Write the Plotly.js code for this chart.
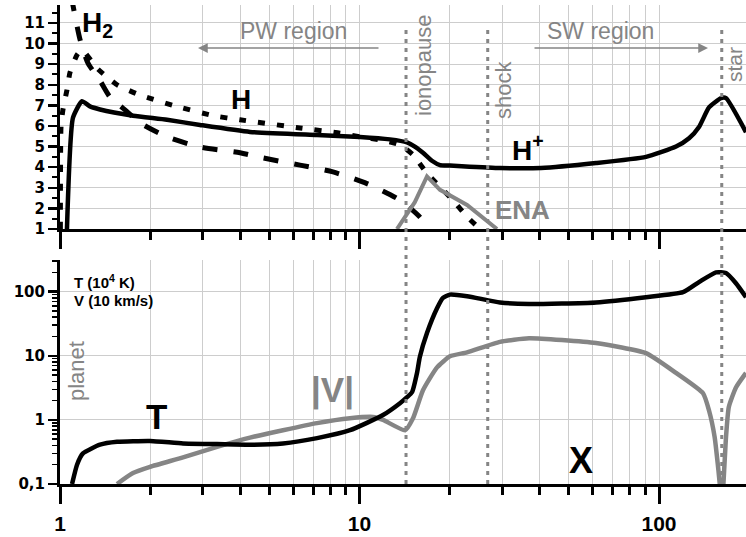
<!DOCTYPE html>
<html>
<head>
<meta charset="utf-8">
<script src="https://cdn.plot.ly/plotly-3.0.1.min.js"></script>
<style>html,body{margin:0;padding:0;background:#fff;}#chart{width:746px;height:537px;}</style>
</head>
<body>
<div id="chart"></div>
<script>
// ---- top panel: densities ----
const hPlusX = [1.055, 1.105, 1.184, 1.259, 1.36, 1.753, 2.277, 2.934, 4.309, 7.215, 10.04, 12.64, 14.41, 15.3, 16.29, 17.5, 18.57, 20.05, 29.45, 40.36, 61.6, 90.5, 114, 126, 136, 146.9, 161.1, 167.4, 195.2];
const hPlusY = [1, 6.4, 7.2, 6.95, 6.8, 6.5, 6.3, 6.05, 5.71, 5.56, 5.47, 5.35, 5.2, 5.0, 4.7, 4.3, 4.1, 4.08, 3.96, 3.96, 4.2, 4.5, 5.0, 5.4, 5.95, 6.9, 7.35, 7.35, 5.7];
const hX = [1.003, 1.008, 1.023, 1.055, 1.08, 1.14, 1.184, 1.329, 1.55, 1.849, 2.384, 3.243, 3.99, 6.329, 8.608, 10.04, 11.98, 13.65, 15.09, 16.8, 20.05, 22.86, 25.25];
const hY = [1, 6.0, 6.8, 7.75, 8.6, 9.45, 9.7, 8.8, 8.0, 7.5, 7.0, 6.5, 6.3, 5.9, 5.65, 5.47, 5.3, 5.08, 4.6, 3.7, 2.55, 1.6, 1];
const h2X = [1.09, 1.166, 1.24, 1.36, 1.469, 1.674, 1.849, 2.277, 2.934, 3.99, 4.762, 6.329, 8.155, 10.59, 13.65, 16.17, 16.29];
const h2Y = [12.3, 10.2, 9.05, 8.2, 7.4, 6.7, 6.15, 5.47, 4.98, 4.7, 4.45, 4.1, 3.77, 3.2, 2.4, 1.45, 1];
const enaX = [13.34, 15.3, 16.8, 18.57, 22.86, 28.78];
const enaY = [1, 2.3, 3.55, 2.9, 2.17, 1];

// ---- bottom panel: temperature and velocity ----
const tX = [1.097, 1.14, 1.193, 1.36, 1.55, 1.998, 2.575, 3.344, 4.309, 5.553, 7.215, 9.296, 11.98, 13.65, 14.41, 14.97, 15.56, 15.9, 16.8, 18.15, 19.0, 20.05, 22.86, 29.45, 36.81, 61.6, 90.5, 120.3, 136, 155, 167.4, 180.7, 195.2];
const tY = [0.1, 0.2, 0.30, 0.41, 0.455, 0.47, 0.43, 0.42, 0.41, 0.43, 0.52, 0.69, 1.19, 1.82, 2.26, 2.7, 5.4, 9.6, 22.6, 55, 80, 90, 85, 68, 64, 68, 82, 98, 141, 200, 195, 135, 82];
const vX = [1.55, 1.753, 1.998, 2.575, 3.344, 4.309, 5.553, 7.215, 9.296, 11.09, 11.98, 14.19, 15.09, 16.29, 18.15, 20.05, 22.86, 29.45, 36.81, 61.6, 90.5, 114, 140.3, 146.9, 153.4, 157.6, 162.3, 165.5, 167.4, 171, 180.7, 195.2];
const vY = [0.1, 0.148, 0.185, 0.26, 0.38, 0.53, 0.69, 0.89, 1.06, 1.11, 1.0, 0.69, 1.06, 2.9, 6.6, 9.8, 11.3, 16.5, 18.8, 15.8, 11, 5.4, 2.6, 1.4, 0.54, 0.18, 0.05, 0.21, 0.54, 1.58, 3.2, 5.4];

// ---- region boundaries ----
const boundaryNames = ['ionopause', 'shock', 'star'];
const boundaryX = [14.3, 26.8, 162];

const FONT = 'Liberation Sans, Arial, sans-serif';
const GRAY = '#858585';
const GRID = '#cdcdcd';

const traces = [
  {x: h2X, y: h2Y, xaxis: 'x', yaxis: 'y', mode: 'lines', line: {color: 'black', width: 5, dash: '15px,16px', shape: 'spline', smoothing: 0.6}},
  {x: hX, y: hY, xaxis: 'x', yaxis: 'y', mode: 'lines', line: {color: 'black', width: 5, dash: '7px,12px', shape: 'spline', smoothing: 0.5}},
  {x: enaX, y: enaY, xaxis: 'x', yaxis: 'y', mode: 'lines', line: {color: GRAY, width: 4}},
  {x: hPlusX, y: hPlusY, xaxis: 'x', yaxis: 'y', mode: 'lines', line: {color: 'black', width: 4.5, shape: 'spline', smoothing: 0.5}},
  {x: vX, y: vY, xaxis: 'x2', yaxis: 'y2', mode: 'lines', line: {color: GRAY, width: 4.5, shape: 'spline', smoothing: 0.5}},
  {x: tX, y: tY, xaxis: 'x2', yaxis: 'y2', mode: 'lines', line: {color: 'black', width: 4.5, shape: 'spline', smoothing: 0.5}}
];

function xAxis(anchor, labels) {
  return {
    type: 'log', range: [0, 2.2905], anchor: anchor,
    tickmode: 'linear', tick0: 0, dtick: 1,
    showticklabels: labels,
    tickfont: {family: FONT, size: 21, color: 'black', weight: 'bold'},
    ticklabelstandoff: 2,
    ticks: 'outside', ticklen: 17, tickwidth: 3, tickcolor: 'black',
    showline: true, linewidth: 3, linecolor: 'black',
    showgrid: true, gridcolor: GRID, gridwidth: 1, zeroline: false,
    minor: {dtick: 'D1', ticks: 'outside', ticklen: 8, tickwidth: 3, tickcolor: 'black', showgrid: true, gridcolor: GRID, gridwidth: 1}
  };
}

const yTop = [(484 - 229) / 479, 1];
const yBot = [0, (484 - 260) / 479];

function px(p) { return (p - 60) / 686; }
function py(p) { return (484 - p) / 479; }

const annotations = [];
function txt(text, x, y, opts) {
  annotations.push(Object.assign({
    text: text, xref: 'paper', yref: 'paper', x: px(x), y: py(y),
    showarrow: false, xanchor: 'center', yanchor: 'middle',
    font: {family: FONT, size: 22, color: 'black'}
  }, opts || {}));
}
txt('<b>H<sub>2</sub></b>', 80, 24, {xanchor: 'left', font: {family: FONT, size: 28, color: 'black'}});
txt('<b>H</b>', 241, 100, {font: {family: FONT, size: 28, color: 'black'}});
txt('<b>H<sup>+</sup></b>', 510, 148, {xanchor: 'left', font: {family: FONT, size: 28, color: 'black'}});
txt('<b>ENA</b>', 522, 210, {font: {family: FONT, size: 26, color: GRAY}});
txt('PW region', 293, 31, {font: {family: FONT, size: 23, color: GRAY}});
txt('SW region', 600, 31, {font: {family: FONT, size: 23, color: GRAY}});
const boundaryLabelPos = [[423, 65], [503, 90], [734, 65]];
boundaryNames.forEach((n, i) => txt(n, boundaryLabelPos[i][0], boundaryLabelPos[i][1], {textangle: -90, borderpad: 0, font: {family: FONT, size: i === 2 ? 21 : 22, color: GRAY}}));
txt('planet', 76, 371, {textangle: -90, font: {family: FONT, size: 22, color: GRAY}});
txt('<b>T (10<sup>4</sup> K)</b>', 72, 281, {xanchor: 'left', font: {family: FONT, size: 15, color: 'black'}});
txt('<b>V (10 km/s)</b>', 72, 300, {xanchor: 'left', font: {family: FONT, size: 15, color: 'black'}});
txt('<b>T</b>', 156, 416, {font: {family: FONT, size: 35, color: 'black'}});
txt('<b>|V|</b>', 332, 390, {font: {family: FONT, size: 35, color: GRAY}});
txt('<b>X</b>', 581, 460, {font: {family: FONT, size: 36, color: 'black'}});
// region arrows
annotations.push({text: '', xref: 'paper', yref: 'paper', x: px(198), y: py(48), ax: 182, ay: 0,
  showarrow: true, arrowhead: 2, arrowsize: 1.3, arrowwidth: 1.5, arrowcolor: GRAY});
annotations.push({text: '', xref: 'paper', yref: 'paper', x: px(708), y: py(48), ax: -175, ay: 0,
  showarrow: true, arrowhead: 2, arrowsize: 1.3, arrowwidth: 1.5, arrowcolor: GRAY});

const shapeTops = [py(25), py(25), py(28)];
const shapes = boundaryX.map((bx, i) => ({
  type: 'line', xref: 'x', yref: 'paper', x0: bx, x1: bx, y0: 0, y1: shapeTops[i],
  layer: 'above', line: {color: GRAY, width: 3, dash: '4px,5px'}
}));

const layout = {
  width: 746, height: 537,
  margin: {l: 60, r: 0, t: 5, b: 53},
  paper_bgcolor: 'white', plot_bgcolor: 'white',
  showlegend: false, hovermode: false,
  separators: ',.',
  font: {family: FONT},
  xaxis: xAxis('y', false),
  xaxis2: xAxis('y2', true),
  yaxis: {
    domain: yTop, range: [1, 11.87], anchor: 'x',
    tickmode: 'linear', tick0: 1, dtick: 1,
    tickfont: {family: 'DejaVu Sans, sans-serif', size: 15, color: 'black', weight: 'bold'},
    ticks: 'outside', ticklen: 9, tickwidth: 2.5, tickcolor: 'black',
    showline: true, linewidth: 3, linecolor: 'black',
    showgrid: true, gridcolor: GRID, zeroline: false,
    minor: {dtick: 0.5, ticks: 'outside', ticklen: 5, tickwidth: 2, tickcolor: 'black', showgrid: false}
  },
  yaxis2: {
    type: 'log', domain: yBot, range: [-1, 2.494], anchor: 'x2',
    tickmode: 'linear', tick0: 0, dtick: 1,
    tickfont: {family: 'DejaVu Sans, sans-serif', size: 15, color: 'black', weight: 'bold'},
    ticks: 'outside', ticklen: 9, tickwidth: 2.5, tickcolor: 'black',
    showline: true, linewidth: 3, linecolor: 'black',
    showgrid: true, gridcolor: GRID, zeroline: false,
    minor: {dtick: 'D1', ticks: 'outside', ticklen: 5, tickwidth: 1.5, tickcolor: 'black', showgrid: false}
  },
  shapes: shapes,
  annotations: annotations
};

Plotly.newPlot('chart', traces, layout, {staticPlot: true, displayModeBar: false});
</script>
</body>
</html>
